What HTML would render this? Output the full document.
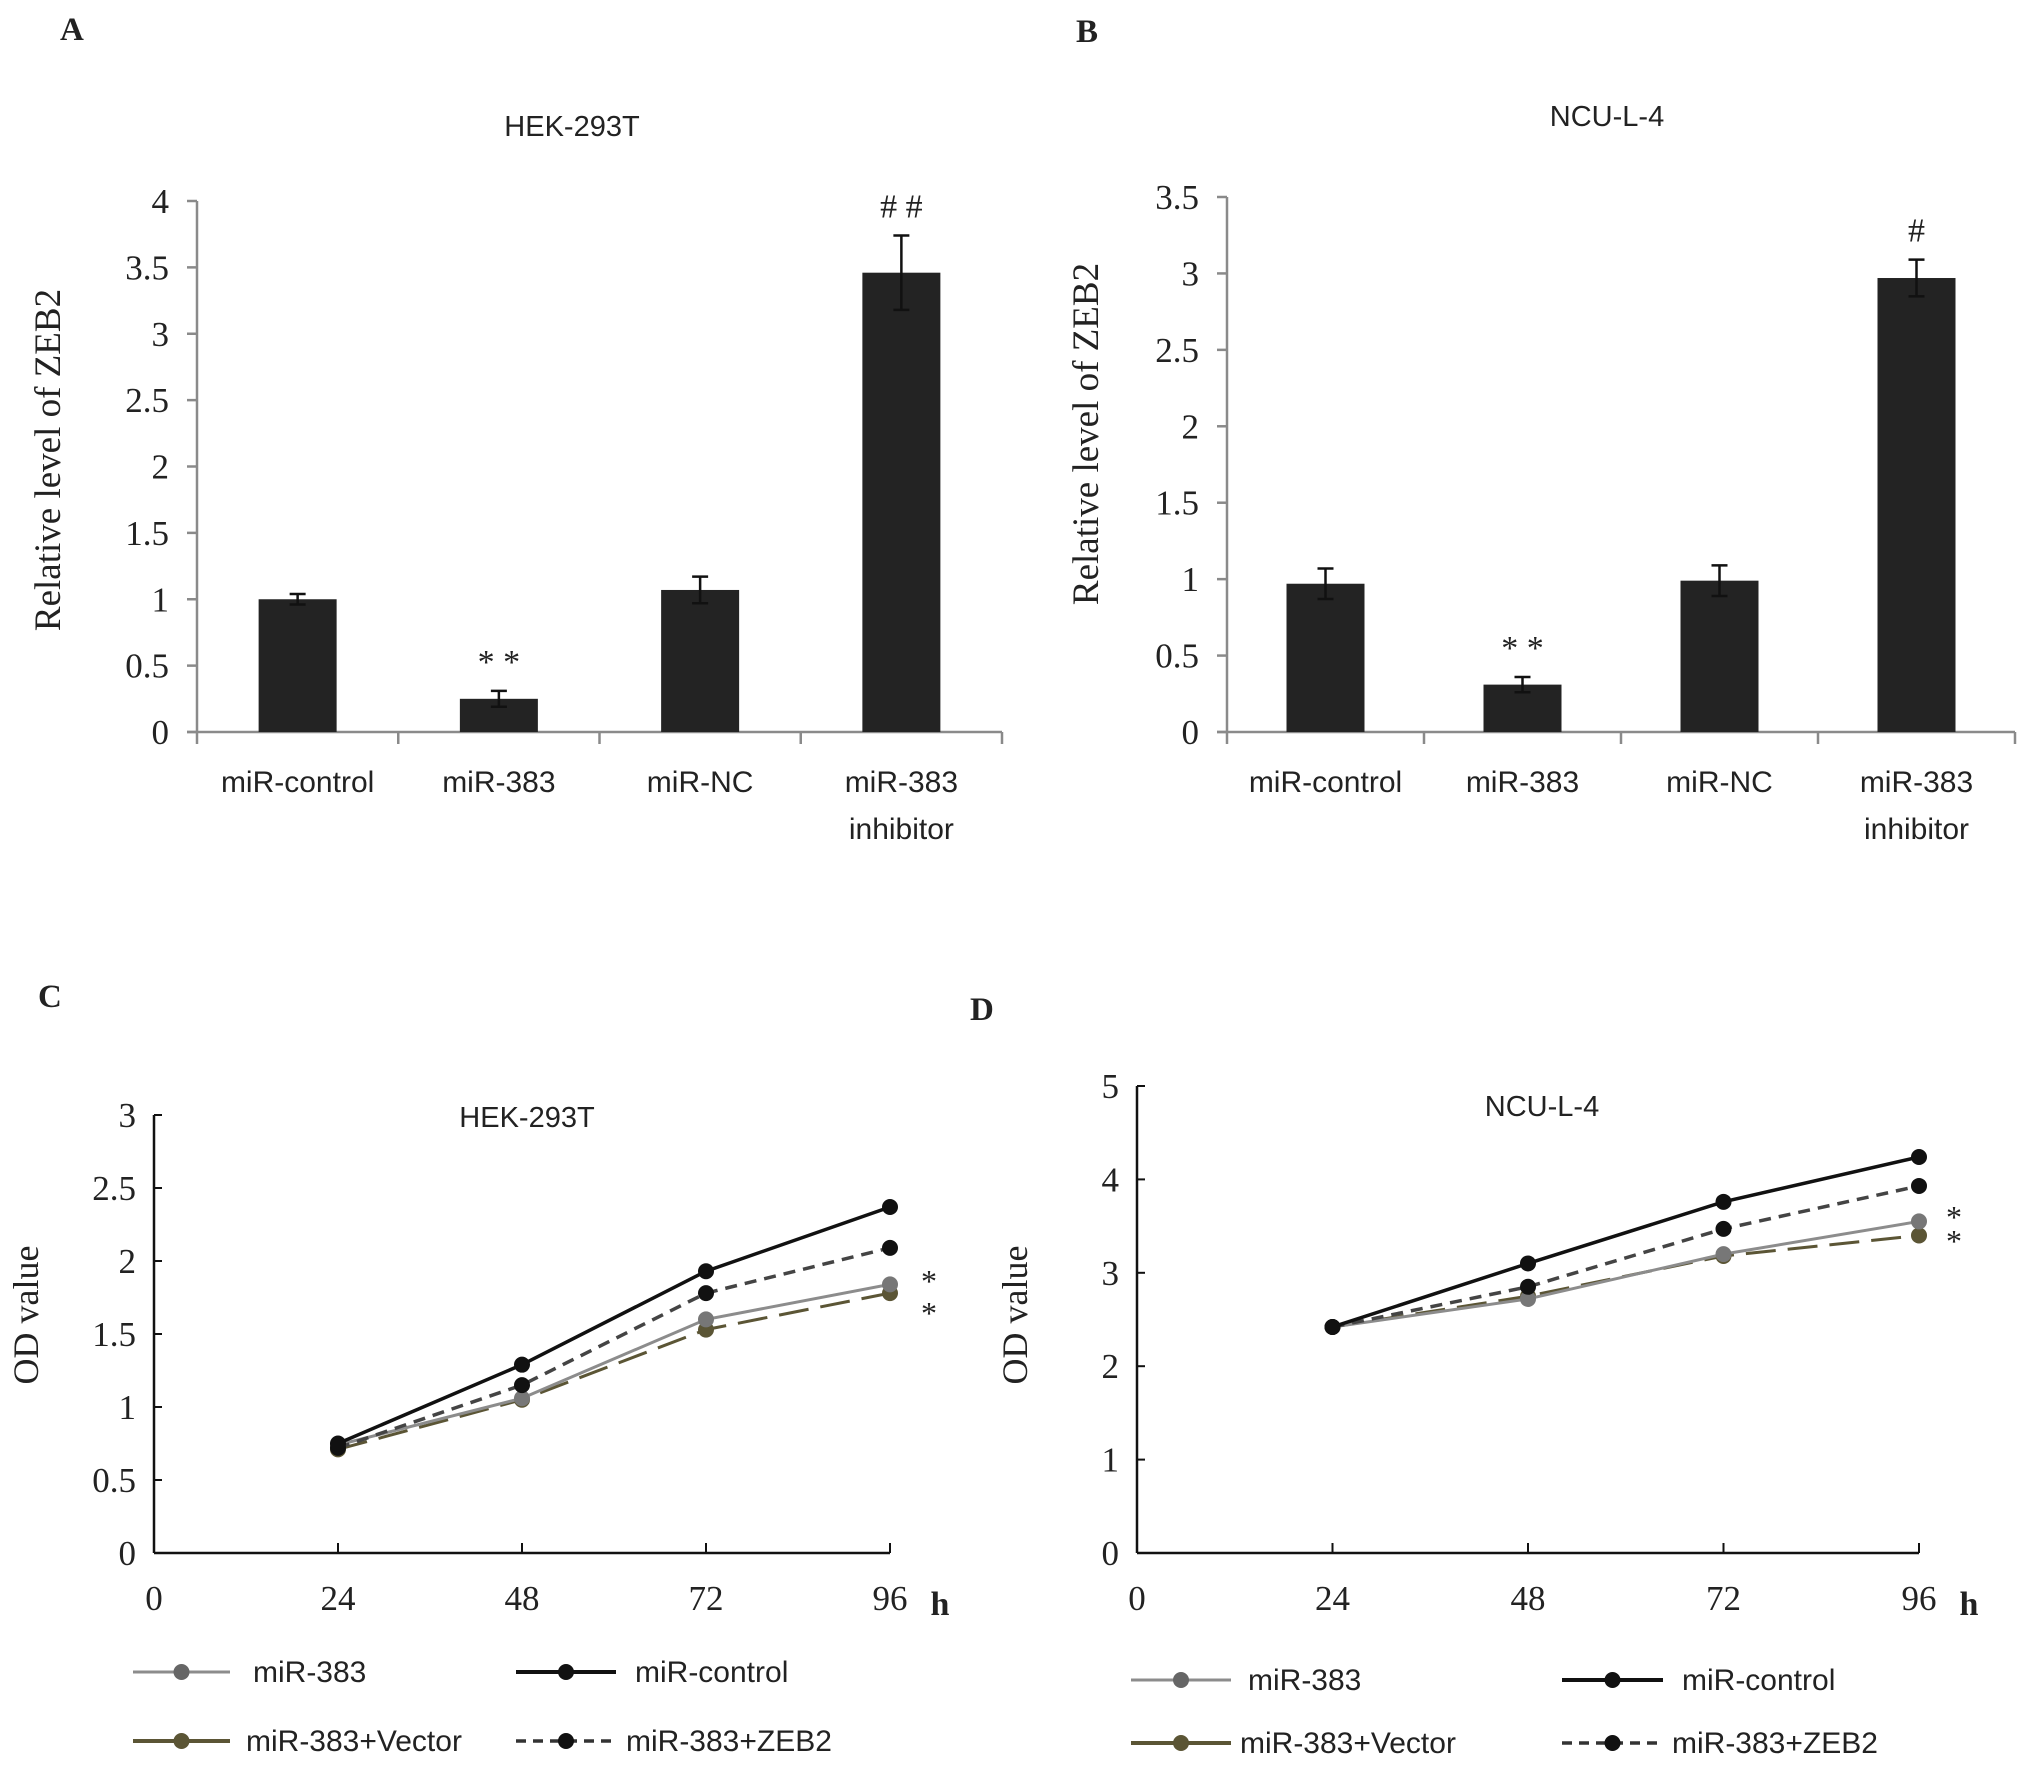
<!DOCTYPE html>
<html><head><meta charset="utf-8"><style>
html,body{margin:0;padding:0;background:#fff;}
svg{display:block;}
.serif{font-family:"Liberation Serif",serif;}
.sans{font-family:"Liberation Sans",sans-serif;}
</style></head><body>
<svg id="fig" width="2031" height="1769" viewBox="0 0 2031 1769" xmlns="http://www.w3.org/2000/svg"></svg>
<script>
// Bar chart data
const barCategories = ["miR-control","miR-383","miR-NC","miR-383|inhibitor"];
const barValuesA = [1.0, 0.25, 1.07, 3.46];
const barErrorsA = [0.04, 0.06, 0.1, 0.28];
const barMarksA = ["", "* *", "", "# #"];
const barTicksA = [0,0.5,1,1.5,2,2.5,3,3.5,4];
const barValuesB = [0.97, 0.31, 0.99, 2.97];
const barErrorsB = [0.1, 0.05, 0.1, 0.12];
const barMarksB = ["", "* *", "", "#"];
const barTicksB = [0,0.5,1,1.5,2,2.5,3,3.5];
// Line chart data
const hours = [24,48,72,96];
const xTicks = [0,24,48,72,96];
const lineC_control = [0.75,1.29,1.93,2.37];
const lineC_zeb2 = [0.72,1.15,1.78,2.09];
const lineC_mir383 = [0.74,1.06,1.60,1.84];
const lineC_vector = [0.71,1.05,1.53,1.78];
const ticksC = [0,0.5,1,1.5,2,2.5,3];
const lineD_control = [2.42,3.10,3.76,4.24];
const lineD_zeb2 = [2.42,2.85,3.47,3.93];
const lineD_mir383 = [2.42,2.72,3.20,3.55];
const lineD_vector = [2.42,2.75,3.18,3.40];
const ticksD = [0,1,2,3,4,5];

const NS="http://www.w3.org/2000/svg";
const svg=document.getElementById('fig');
function el(tag,attrs,parent,text){const e=document.createElementNS(NS,tag);for(const k in attrs)e.setAttribute(k,attrs[k]);if(text!==undefined)e.textContent=text;(parent||svg).appendChild(e);return e;}

function barChart(cfg,vals,errs,marks,ticks,name){
  const g=el('g',{});
  
  
  const {x0,x1,y0,ymax,ytop}=cfg;
  const sy=v=>y0-(v/ymax)*(y0-ytop);
  const n=vals.length, cw=(x1-x0)/n;
  const ax=el('line',{x1:x0,y1:ytop,x2:x0,y2:y0,stroke:'#8a8a8a','stroke-width':2.5},g);
  
  const xa=el('line',{x1:x0-10,y1:y0,x2:x1,y2:y0,stroke:'#8a8a8a','stroke-width':2.5},g);
  
  ticks.forEach(t=>{
    el('line',{x1:x0-10,y1:sy(t),x2:x0,y2:sy(t),stroke:'#8a8a8a','stroke-width':2.5},g);
    const tl=el('text',{x:x0-28,y:sy(t)+12,'text-anchor':'end','font-size':35,class:'serif',fill:'#222'},g,String(t));
    
  });
  for(let i=0;i<=n;i++){el('line',{x1:x0+i*cw,y1:y0,x2:x0+i*cw,y2:y0+12,stroke:'#8a8a8a','stroke-width':2.5},g);}
  vals.forEach((v,i)=>{
    const cx=x0+(i+0.5)*cw,bw=78;
    const b=el('rect',{x:cx-bw/2,y:sy(v),width:bw,height:y0-sy(v),fill:'#232323'},g);
    
    const e=errs[i];
    el('path',{d:`M${cx},${sy(v+e)}V${sy(v-e)}M${cx-8},${sy(v+e)}H${cx+8}M${cx-8},${sy(v-e)}H${cx+8}`,stroke:'#111','stroke-width':2.5,fill:'none'},g);
    if(marks[i]){const m=el('text',{x:cx,y:sy(v+e)-18,'text-anchor':'middle','font-size':34,class:'serif',fill:'#222'},g,marks[i]);
      }
    const parts=barCategories[i].split('|');
    parts.forEach((p,k)=>{const t=el('text',{x:cx,y:y0+60+k*47,'text-anchor':'middle','font-size':30,class:'sans',fill:'#222'},g,p);
      });
  });
  return sy;
}

function lineChart(cfg,series,ticks,name){
  const g=el('g',{});
  
  
  const {x0,x1,y0,ytop,ymax}=cfg;
  const sx=h=>x0+(h/96)*(x1-x0);
  const sy=v=>y0-(v/ymax)*(y0-ytop);
  const ya=el('line',{x1:x0,y1:ytop,x2:x0,y2:y0,stroke:'#111','stroke-width':2.5},g);
  
  const xa=el('line',{x1:x0,y1:y0,x2:x1,y2:y0,stroke:'#111','stroke-width':2.5},g);
  
  ticks.forEach(t=>{
    el('line',{x1:x0,y1:sy(t),x2:x0+8,y2:sy(t),stroke:'#111','stroke-width':2},g);
    const tl=el('text',{x:x0-18,y:sy(t)+12,'text-anchor':'end','font-size':35,class:'serif',fill:'#222'},g,String(t));
    
  });
  xTicks.forEach(h=>{
    if(h>0)el('line',{x1:sx(h),y1:y0,x2:sx(h),y2:y0-10,stroke:'#111','stroke-width':2},g);
    const tl=el('text',{x:sx(h),y:y0+57,'text-anchor':'middle','font-size':35,class:'serif',fill:'#222'},g,String(h));
    
  });
  const hl=el('text',{x:x1+50,y:y0+62,'text-anchor':'middle','font-size':34,'font-weight':'bold',class:'serif',fill:'#222'},g,'h');
  
  series.forEach(s=>{
    const d=s.vals.map((v,i)=>(i?'L':'M')+sx(hours[i])+','+sy(v)).join('');
    const p=el('path',{d,stroke:s.color,'stroke-width':s.w,fill:'none','stroke-dasharray':s.dash||'none'},g);
    
    s.vals.forEach((v,i)=>{const c=el('circle',{cx:sx(hours[i]),cy:sy(v),r:8,fill:s.mcolor},g);
      });
  });
  return {sx,sy};
}

function seriesFor(c,z,m,v){return [
 {key:'mir-383-vector',vals:v,color:'#5b5535',mcolor:'#5b5535',w:3,dash:'30 12'},
 {key:'mir-383',vals:m,color:'#8c8c8c',mcolor:'#777',w:3},
 {key:'mir-383-zeb2',vals:z,color:'#444',mcolor:'#111',w:3.5,dash:'12 8'},
 {key:'mir-control',vals:c,color:'#111',mcolor:'#111',w:3.5}];}

function legend(x,y1,y2,cols,name){
  const g=el('g',{});
  
  
  const items=[
   {lx:x[0],y:y1,w:x[1],color:'#8c8c8c',mc:'#666',dash:'none',sw:3,text:'miR-383',tx:x[2]},
   {lx:cols[0],y:y1,w:cols[1],color:'#111',mc:'#111',dash:'none',sw:4,text:'miR-control',tx:cols[2]},
   {lx:x[0],y:y2,w:x[1],color:'#5b5535',mc:'#5b5535',dash:'none',sw:4,text:'miR-383+Vector',tx:x[3]},
   {lx:cols[0],y:y2,w:cols[1],color:'#333',mc:'#111',dash:'10 7',sw:3.5,text:'miR-383+ZEB2',tx:cols[3]}];
  items.forEach(it=>{
    const e=el('g',{},g);
    
    el('line',{x1:it.lx,y1:it.y,x2:it.lx+it.w,y2:it.y,stroke:it.color,'stroke-width':it.sw,'stroke-dasharray':it.dash},e);
    el('circle',{cx:it.lx+it.w/2,cy:it.y,r:8,fill:it.mc},e);
    el('text',{x:it.tx,y:it.y+10,'font-size':30,class:'sans',fill:'#222'},e,it.text);
  });
}

function txt(x,y,s,size,cls,name,extra){const t=el('text',Object.assign({x,y,'font-size':size,class:cls,fill:'#222'},extra||{}),svg,s);
  return t;}

// Panel A
barChart({x0:197,x1:1002,y0:732,ymax:4,ytop:201},barValuesA,barErrorsA,barMarksA,barTicksA,'chart-a');
txt(60,40,'A',33,'serif','panel-label-a',{'font-weight':'bold'});
txt(572,136,'HEK-293T',29,'sans','chart-title-a',{'text-anchor':'middle'});
txt(60,460,'Relative level of ZEB2',37,'serif','y-axis-title-a',{'text-anchor':'middle',transform:'rotate(-90 60 460)'});
// Panel B
barChart({x0:1227,x1:2015,y0:732,ymax:3.5,ytop:197},barValuesB,barErrorsB,barMarksB,barTicksB,'chart-b');
txt(1076,42,'B',33,'serif','panel-label-b',{'font-weight':'bold'});
txt(1607,126,'NCU-L-4',29,'sans','chart-title-b',{'text-anchor':'middle'});
txt(1098,434,'Relative level of ZEB2',37,'serif','y-axis-title-b',{'text-anchor':'middle',transform:'rotate(-90 1098 434)'});
// Panel C
lineChart({x0:154,x1:890,y0:1553,ytop:1115,ymax:3},seriesFor(lineC_control,lineC_zeb2,lineC_mir383,lineC_vector),ticksC,'chart-c');
txt(38,1007,'C',33,'serif','panel-label-c',{'font-weight':'bold'});
txt(527,1127,'HEK-293T',29,'sans','chart-title-c',{'text-anchor':'middle'});
txt(38,1315,'OD     value',36,'serif','y-axis-title-c',{'text-anchor':'middle',transform:'rotate(-90 38 1315)'});
txt(929,1292,'*',32,'serif','significance-mark-c1',{'text-anchor':'middle'});
txt(929,1324,'*',32,'serif','significance-mark-c2',{'text-anchor':'middle'});
legend([133,97,253,246],1672,1741,[516,100,635,626],'legend-c');
// Panel D
lineChart({x0:1137,x1:1919,y0:1553,ytop:1086,ymax:5},seriesFor(lineD_control,lineD_zeb2,lineD_mir383,lineD_vector),ticksD,'chart-d');
txt(970,1020,'D',33,'serif','panel-label-d',{'font-weight':'bold'});
txt(1542,1116,'NCU-L-4',29,'sans','chart-title-d',{'text-anchor':'middle'});
txt(1027,1315,'OD     value',36,'serif','y-axis-title-d',{'text-anchor':'middle',transform:'rotate(-90 1027 1315)'});
txt(1954,1228,'*',32,'serif','significance-mark-d1',{'text-anchor':'middle'});
txt(1954,1252,'*',32,'serif','significance-mark-d2',{'text-anchor':'middle'});
legend([1131,100,1248,1240],1680,1743,[1562,101,1682,1672],'legend-d');
</script>
</body></html>
